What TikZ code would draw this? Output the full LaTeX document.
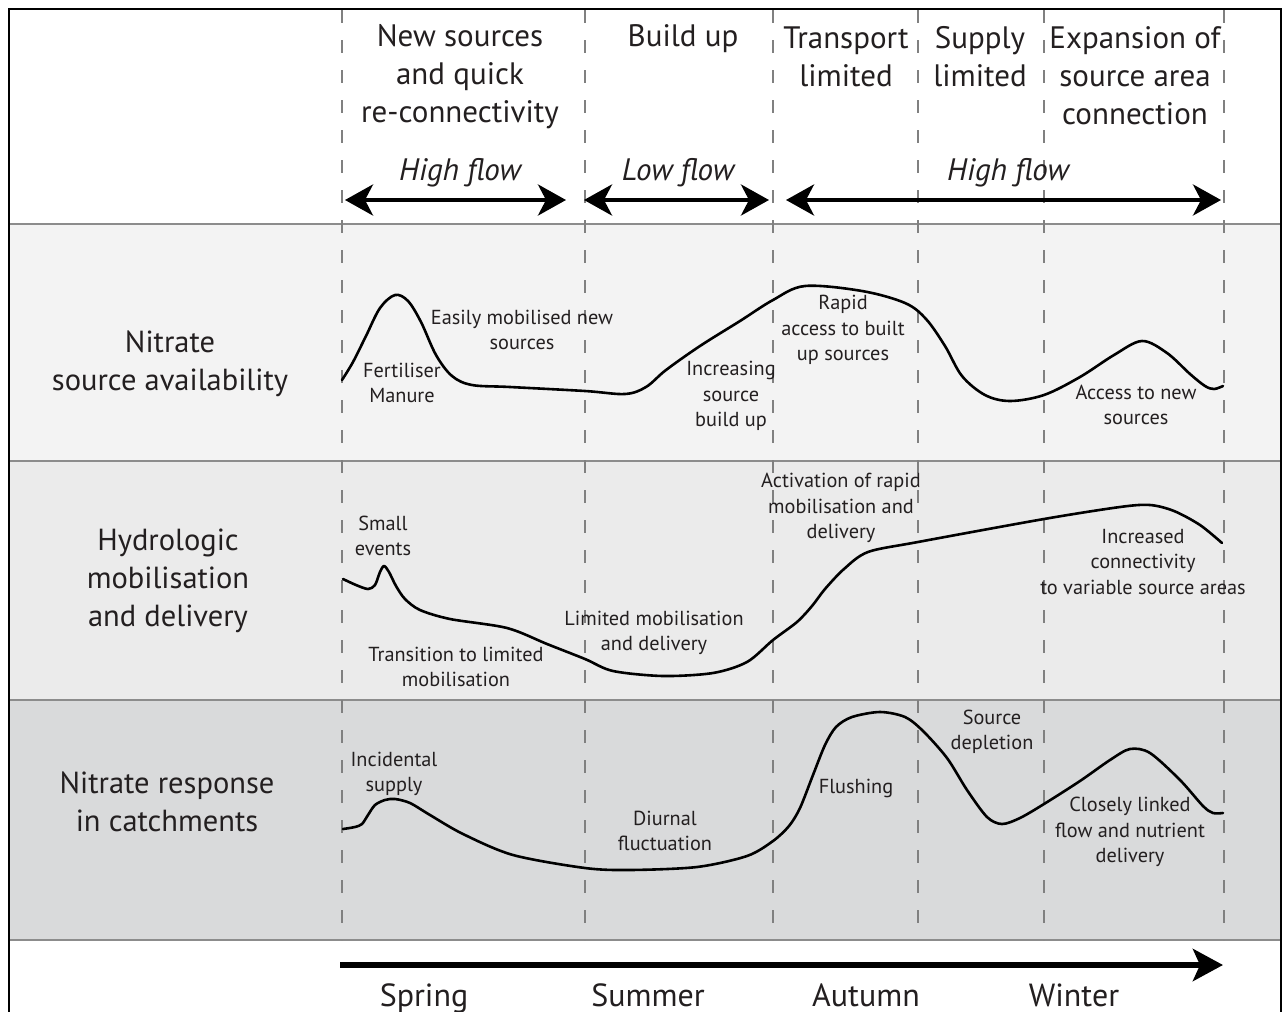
\documentclass[tikz,border=0pt]{standalone}
\usepackage{fontspec}
\setmainfont{PT Sans}
\usetikzlibrary{arrows.meta}

\definecolor{ink}{HTML}{231F20}
\definecolor{bandA}{HTML}{F3F3F3}
\definecolor{bandB}{HTML}{EBEBEB}
\definecolor{bandC}{HTML}{D9DADB}
\definecolor{rule}{HTML}{8C8C8C}
\definecolor{dashgray}{HTML}{808080}

\tikzset{
  head/.style={font=\fontsize{31}{38}\selectfont, align=center, text=ink, inner sep=0pt},
  rowlabel/.style={font=\fontsize{30.5}{38}\selectfont, align=center, text=ink, inner sep=0pt},
  flowlabel/.style={font=\fontsize{31}{36}\selectfont\itshape, text=ink, inner sep=0pt},
  note/.style={font=\fontsize{20.3}{25.5}\selectfont, align=center, text=ink, inner sep=0pt},
  season/.style={font=\fontsize{32}{36}\selectfont, text=ink, inner sep=0pt, anchor=base},
  band/.style={draw=rule, line width=1.5pt},
  divider/.style={draw=dashgray, line width=2.4pt, dash pattern=on 13pt off 17pt},
  curve/.style={draw=black, line width=2.6pt, line join=round, line cap=round},
  flowarrow/.style={draw=black, line width=4pt,
    {Stealth[length=28pt, width=31pt, inset=8pt]}-{Stealth[length=28pt, width=31pt, inset=8pt]}},
  timearrow/.style={draw=black, line width=6pt,
    -{Stealth[length=30pt, width=32pt, inset=7pt]}},
}

\begin{document}
\begin{tikzpicture}[x=1pt, y=-1pt]
\useasboundingbox (0,0) rectangle (1283,1012);
\clip (0,0) rectangle (1283,1012);
\fill[white] (0,0) rectangle (1283,1012);

% row bands
\fill[bandA] (10,224) rectangle (1281,461);
\fill[bandB] (10,461) rectangle (1281,700);
\fill[bandC] (10,700) rectangle (1281,940);
\draw[band] (10,224) -- (1281,224);
\draw[band] (10,461) -- (1281,461);
\draw[band] (10,700) -- (1281,700);
\draw[band] (10,940) -- (1281,940);

% phase dividers
\foreach \x in {342,585,773,918,1044,1224}
  \draw[divider] (\x,10) -- (\x,940);

% outer frame
\draw[black, line width=2.5pt] (9,9) rectangle (1281,1040);

% phase headings
\node[head] (hNew) at (460,77) {New sources\\and quick\\re-connectivity};
\node[head] (hBuild) at (683,39) {Build up};
\node[head] (hTrans) at (846,57) {Transport\\limited};
\node[head] (hSupply) at (980,57) {Supply\\limited};
\node[head] (hExp) at (1135,76) {Expansion of\\source area\\connection};

% flow regime arrows
\node[flowlabel] (fHigh1) at (460,173) {High flow};
\node[flowlabel] (fLow) at (678,173) {Low flow};
\node[flowlabel] (fHigh2) at (1008,173) {High flow};
\coordinate (a1s) at (345,200);
\coordinate (a1e) at (566,200);
\coordinate (a2s) at (584,200);
\coordinate (a2e) at (769,200);
\coordinate (a3s) at (786,200);
\coordinate (a3e) at (1221,200);
\draw[flowarrow] (a1s) -- (a1e);
\draw[flowarrow] (a2s) -- (a2e);
\draw[flowarrow] (a3s) -- (a3e);

% row titles
\node[rowlabel] (rSource) at (170,364) {Nitrate\\source availability};
\node[rowlabel] (rHydro) at (168,581) {Hydrologic\\mobilisation\\and delivery};
\node[rowlabel] (rResp) at (167,802) {Nitrate response\\in catchments};

% nitrate source availability
\draw[curve] plot[smooth, tension=0.55] coordinates {
  (342,380) (353,362) (366,336) (380,308) (395,295) (408,301) (421,322)
  (436,355) (452,376) (472,385) (510,387) (585,391) (625,394) (646,387)
  (666,370) (700,346) (740,321) (773,300) (805,286) (862,291) (905,303)
  (926,319) (945,346) (962,376) (985,395) (1010,401) (1044,395) (1080,377)
  (1114,355) (1142,341) (1167,353) (1190,374) (1205,386) (1214,389) (1223,386)};
\node[note] (nEasy) at (522,330) {Easily mobilised new\\sources};
\node[note] (nFert) at (402,383) {Fertiliser\\Manure};
\node[note] (nInc) at (731,396) {Increasing\\source\\build up};
\node[note] (nRapid) at (843,330) {Rapid\\access to built\\up sources};
\node[note] (nAccess) at (1136,405) {Access to new\\sources};

% hydrologic mobilisation and delivery
\draw[curve] plot[smooth, tension=0.5] coordinates {
  (343,579) (356,585) (368,589) (375,585) (380,572) (384,566) (389,572)
  (396,586) (405,599) (420,610) (450,619) (507,628) (547,644) (585,659)
  (613,671) (663,676) (713,673) (747,662) (773,640) (797,622) (812,606)
  (825,589) (844,569) (868,552) (918,542) (1044,519) (1120,507) (1150,505)
  (1174,511) (1200,525) (1222,543)};
\node[note] (nSmall) at (383,536) {Small\\events};
\node[note] (nTrans) at (456,667) {Transition to limited\\mobilisation};
\node[note] (nLim) at (654,633) {Limited mobilisation\\and delivery};
\node[note] (nAct) at (841,508) {Activation of rapid\\mobilisation and\\delivery};
\node[note] (nConn) at (1143,562) {Increased\\connectivity\\to variable source areas};

% nitrate response in catchments
\draw[curve] plot[smooth, tension=0.5] coordinates {
  (343,829) (355,827) (362,824) (368,815) (375,805) (385,800) (395,799)
  (410,803) (430,815) (463,834) (513,855) (585,868) (630,870) (697,867)
  (747,856) (773,841) (789,826) (800,808) (813,775) (825,745) (836,727)
  (852,717) (880,712) (905,717) (923,731) (947,758) (967,790) (987,817)
  (1002,824) (1020,818) (1044,804) (1080,781) (1110,760) (1130,749)
  (1150,753) (1180,780) (1203,806) (1213,813) (1223,813)};
\node[note] (nIncid) at (394,774) {Incidental\\supply};
\node[note] (nDiur) at (665,831) {Diurnal\\fluctuation};
\node[note] (nFlush) at (856,788) {Flushing};
\node[note] (nDepl) at (992,732) {Source\\depletion};
\node[note] (nClose) at (1130,832) {Closely linked\\flow and nutrient\\delivery};

% seasonal time axis
\coordinate (tStart) at (340,965);
\coordinate (tEnd) at (1223,965);
\draw[timearrow] (tStart) -- (tEnd);
\node[season] (sSpring) at (424,1006) {Spring};
\node[season] (sSummer) at (648,1006) {Summer};
\node[season] (sAutumn) at (866,1006) {Autumn};
\node[season] (sWinter) at (1074,1006) {Winter};
\end{tikzpicture}
\end{document}
